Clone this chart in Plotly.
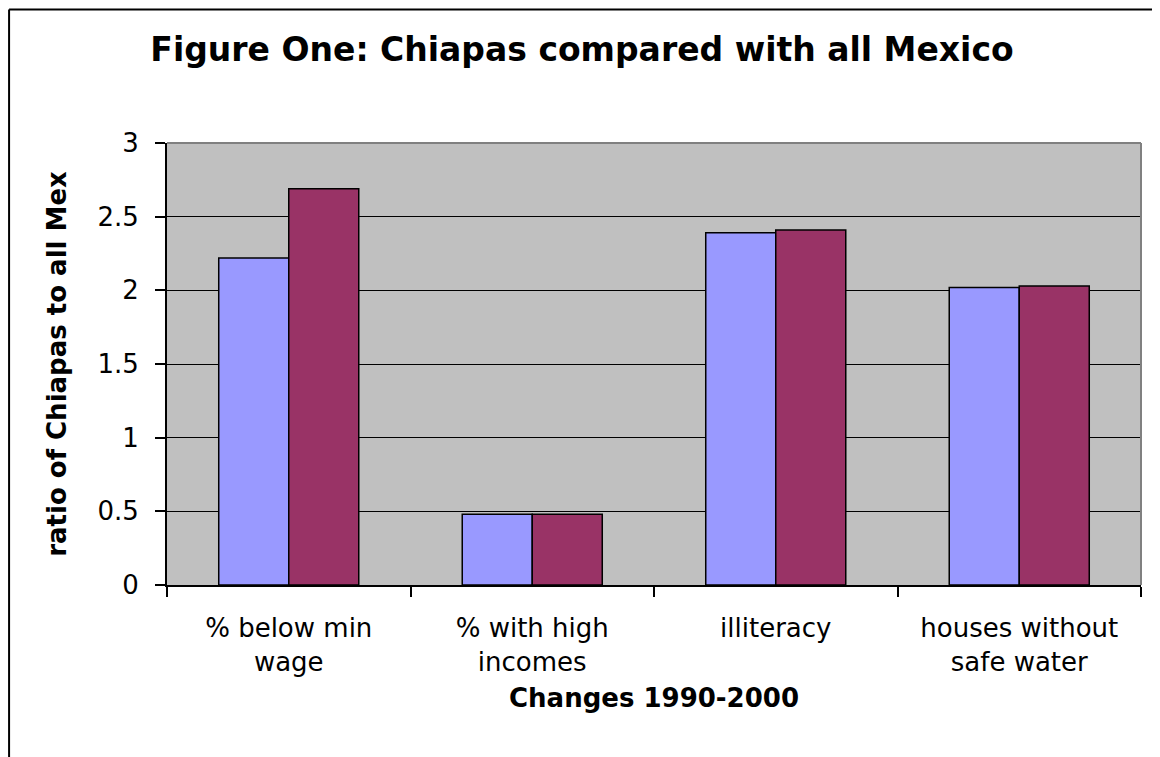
import plotly.graph_objects as go

categories = ["% below min<br>wage", "% with high<br>incomes", "illiteracy", "houses without<br>safe water"]
series_1990 = [2.22, 0.48, 2.39, 2.02]
series_2000 = [2.69, 0.48, 2.41, 2.03]
y_ticks = [0, 0.5, 1, 1.5, 2, 2.5, 3]
y_tick_labels = ["0", "0.5", "1", "1.5", "2", "2.5", "3"]

# the page body has an 8px margin, so the figure is sized/positioned to compensate
OFF = 8
W, H = 1160 - OFF, 757 - OFF
ML, MR, MT, MB = 167 - OFF, 18.5, 142.7 - OFF, 757 - 585.3
FONT = "DejaVu Sans"

fig = go.Figure()
fig.add_trace(go.Bar(name="1990", x=categories, y=series_1990,
                     marker=dict(color="#9999FF", line=dict(color="black", width=1.5))))
fig.add_trace(go.Bar(name="2000", x=categories, y=series_2000,
                     marker=dict(color="#993366", line=dict(color="black", width=1.5))))

pw = W - ML - MR
ph = H - MT - MB
def px2x(p):
    return (p - OFF - ML) / pw
def py2y(p):
    return (H - MB - (p - OFF)) / ph

fig.update_layout(
    width=W, height=H,
    margin=dict(l=ML, r=MR, t=MT, b=MB, pad=0),
    paper_bgcolor="white",
    plot_bgcolor="#C0C0C0",
    barmode="group",
    bargap=0.425,
    bargroupgap=0,
    showlegend=False,
    font=dict(family=FONT, color="black"),
    title=dict(text="<b>Figure One: Chiapas compared with all Mexico</b>",
               x=(582 - OFF) / W, xanchor="center", xref="container",
               y=1 - (49 - OFF) / H, yanchor="middle", yref="container",
               font=dict(family=FONT, size=33, color="black")),
    xaxis=dict(
        showline=True, linecolor="black", linewidth=2,
        ticks="outside", ticklen=10, tickwidth=1.5, tickcolor="black",
        tickson="boundaries", showgrid=False, zeroline=False,
        tickfont=dict(family=FONT, size=26, color="black"),
        ticklabelstandoff=19,
        title=dict(text="<b>Changes 1990-2000</b>", standoff=13,
                   font=dict(family=FONT, size=26, color="black")),
    ),
    yaxis=dict(
        range=[0, 3], tickvals=y_ticks, ticktext=y_tick_labels,
        showline=True, linecolor="black", linewidth=2,
        ticks="outside", ticklen=10, tickwidth=1.5, tickcolor="black",
        showgrid=True, gridcolor="black", gridwidth=1.3, zeroline=False,
        tickfont=dict(family=FONT, size=26, color="black"),
        ticklabelstandoff=11,
        title=dict(text="<b>ratio of Chiapas to all Mex</b>", standoff=23,
                   font=dict(family=FONT, size=26, color="black")),
    ),
    shapes=[
        # plot area top/right border (gray)
        dict(type="line", xref="paper", yref="paper", x0=0, x1=1, y0=1, y1=1,
             line=dict(color="#808080", width=2), layer="above"),
        dict(type="line", xref="paper", yref="paper", x0=1, x1=1, y0=0, y1=1,
             line=dict(color="#808080", width=2), layer="above"),
        # outer chart border (top and left visible)
        dict(type="line", xref="paper", yref="paper", x0=px2x(9), x1=px2x(1165),
             y0=py2y(9), y1=py2y(9), line=dict(color="black", width=2), layer="above"),
        dict(type="line", xref="paper", yref="paper", x0=px2x(9), x1=px2x(9),
             y0=py2y(9), y1=py2y(765), line=dict(color="black", width=2), layer="above"),
    ],
)

fig.write_html("out.html")
